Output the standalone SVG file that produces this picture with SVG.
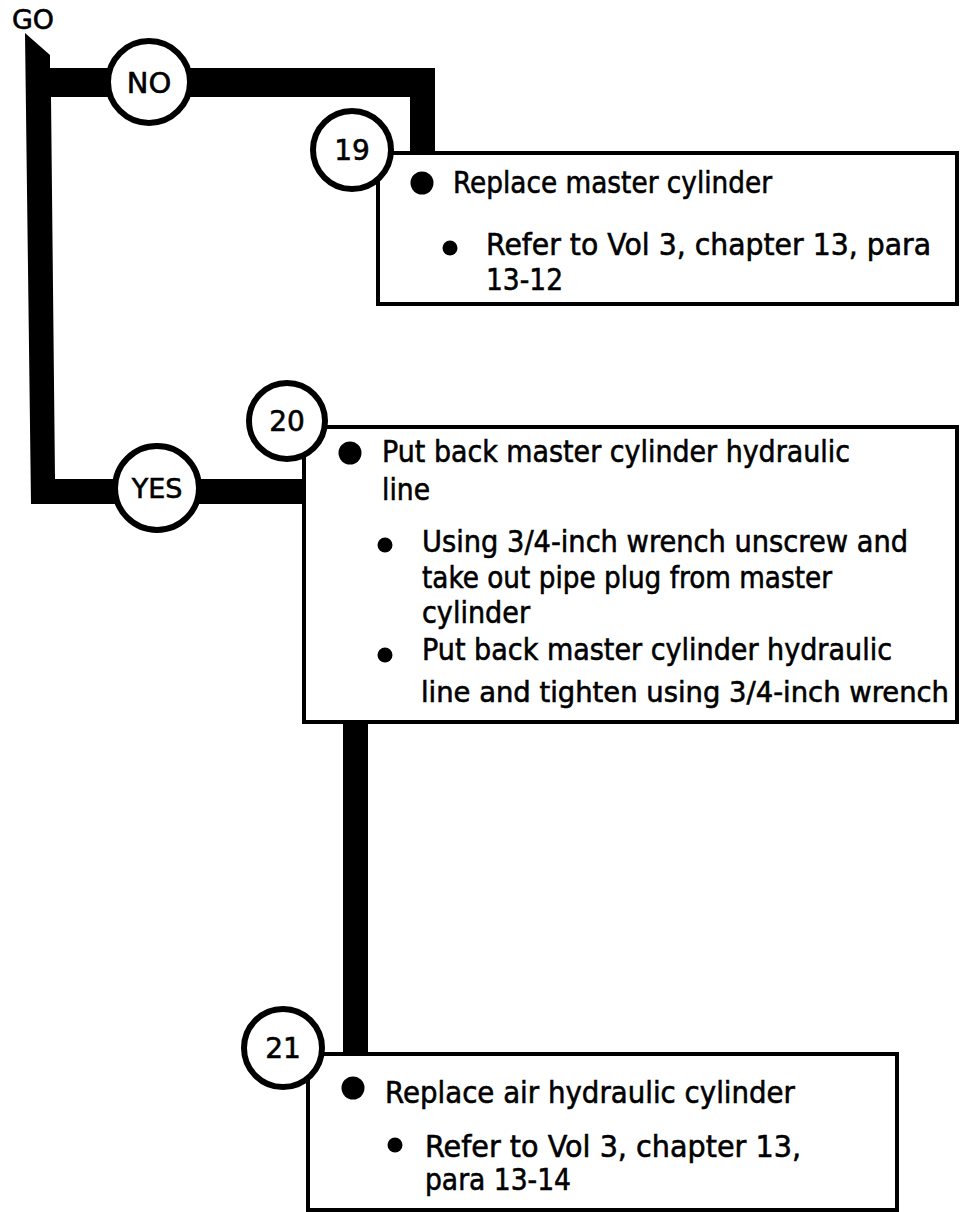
<svg xmlns="http://www.w3.org/2000/svg" width="966" height="1212" viewBox="0 0 966 1212">
<style>
  text { font-family: "DejaVu Sans", "Liberation Sans", sans-serif; fill: #000; stroke: #000; stroke-width: 0.6; }
  .t { font-size: 30px; }
  .lbl { font-size: 28px; text-anchor: middle; }
  .box { fill: #fff; stroke: #000; stroke-width: 4; }
  .circ { fill: #fff; stroke: #000; stroke-width: 6; }
  .dot { fill: #000; }
</style>
<rect width="966" height="1212" fill="#fff"/>
<text x="12" y="29" style="font-size:26px" textLength="42" lengthAdjust="spacingAndGlyphs">GO</text>
<g id="connectors">
  <path d="M25,33 L50,55 L50,68 L435,68 L435,155 L410,155 L410,97 L51,97 L55,479 L305,479 L305,504 L31,504 Z" fill="#000"/>
  <rect x="343" y="720" width="25" height="336" fill="#000"/>
</g>
<g id="step19">
  <rect class="box" x="378" y="153" width="579" height="151"/>
  <circle class="dot" cx="422" cy="183" r="11.5"/>
  <text class="t" x="453" y="193" textLength="319" lengthAdjust="spacingAndGlyphs">Replace master cylinder</text>
  <circle class="dot" cx="450" cy="248" r="7.5"/>
  <text class="t" x="486" y="255" textLength="445" lengthAdjust="spacingAndGlyphs">Refer to Vol 3, chapter 13, para</text>
  <text class="t" x="486" y="290" textLength="77" lengthAdjust="spacingAndGlyphs">13-12</text>
</g>
<g id="step20">
  <rect class="box" x="304" y="427" width="653" height="295"/>
  <circle class="dot" cx="350" cy="453" r="11.5"/>
  <text class="t" x="382" y="462" textLength="468" lengthAdjust="spacingAndGlyphs">Put back master cylinder hydraulic</text>
  <text class="t" x="382" y="500" textLength="48" lengthAdjust="spacingAndGlyphs">line</text>
  <circle class="dot" cx="385" cy="545" r="7.5"/>
  <text class="t" x="422" y="552" textLength="486" lengthAdjust="spacingAndGlyphs">Using 3/4-inch wrench unscrew and</text>
  <text class="t" x="422" y="588" textLength="410" lengthAdjust="spacingAndGlyphs">take out pipe plug from master</text>
  <text class="t" x="422" y="623" textLength="108" lengthAdjust="spacingAndGlyphs">cylinder</text>
  <circle class="dot" cx="385" cy="655" r="7.5"/>
  <text class="t" x="422" y="660" textLength="470" lengthAdjust="spacingAndGlyphs">Put back master cylinder hydraulic</text>
  <text x="421" y="702" style="font-size:27.5px" textLength="528" lengthAdjust="spacingAndGlyphs">line and tighten using 3/4-inch wrench</text>
</g>
<g id="step21">
  <rect class="box" x="308" y="1054" width="589" height="156"/>
  <circle class="dot" cx="353" cy="1088" r="11.5"/>
  <text class="t" x="385" y="1103" textLength="410" lengthAdjust="spacingAndGlyphs">Replace air hydraulic cylinder</text>
  <circle class="dot" cx="395" cy="1145" r="7.5"/>
  <text class="t" x="425" y="1157" textLength="376" lengthAdjust="spacingAndGlyphs">Refer to Vol 3, chapter 13,</text>
  <text class="t" x="425" y="1190" textLength="146" lengthAdjust="spacingAndGlyphs">para 13-14</text>
</g>
<g id="no">
  <circle class="circ" cx="149" cy="82" r="41"/>
  <text class="lbl" x="149" y="93" style="font-size:29px">NO</text>
</g>
<g id="yes">
  <circle class="circ" cx="157" cy="488" r="42"/>
  <text class="lbl" x="157" y="498" style="font-size:27px">YES</text>
</g>
<g id="n19">
  <circle class="circ" cx="352" cy="150" r="39"/>
  <text class="lbl" x="352" y="160">19</text>
</g>
<g id="n20">
  <circle class="circ" cx="287" cy="421" r="38"/>
  <text class="lbl" x="287" y="431">20</text>
</g>
<g id="n21">
  <circle class="circ" cx="283" cy="1048" r="39"/>
  <text class="lbl" x="283" y="1058">21</text>
</g>
</svg>
